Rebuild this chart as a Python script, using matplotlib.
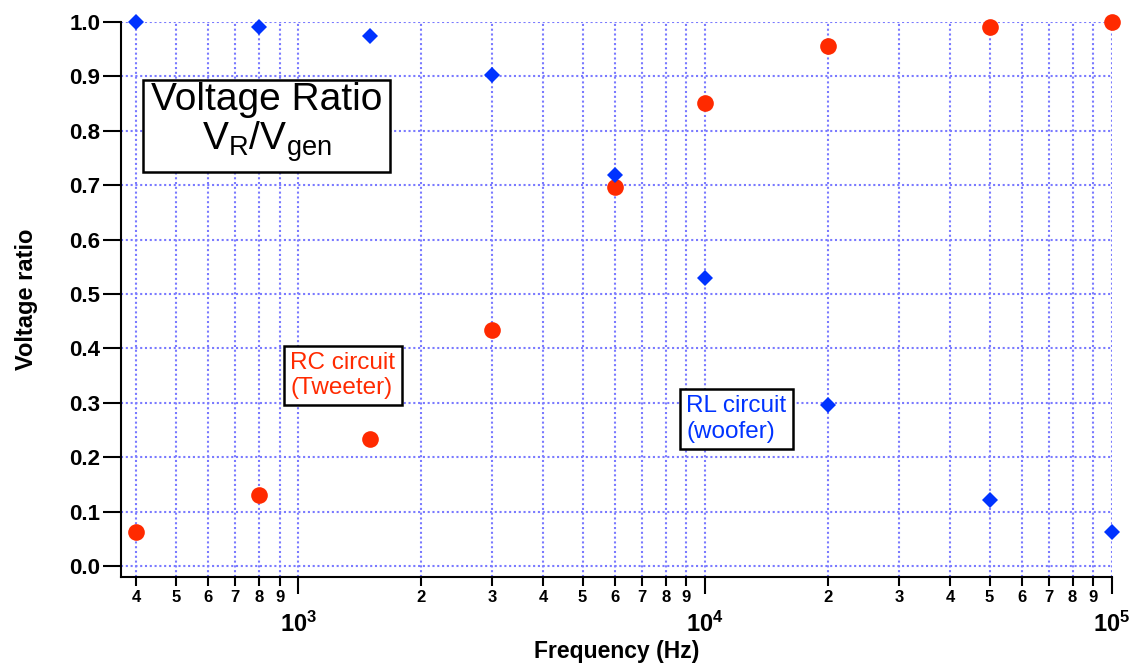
import matplotlib
matplotlib.use("Agg")
import matplotlib.pyplot as plt
from matplotlib.ticker import FixedLocator, FixedFormatter

plt.rcParams["font.family"] = ["Liberation Sans", "DejaVu Sans"]
plt.rcParams["mathtext.fontset"] = "custom"
plt.rcParams["mathtext.rm"] = "Liberation Sans"
plt.rcParams["mathtext.bf"] = "Liberation Sans:bold"

# measured points
freq = [400, 800, 1500, 3000, 6000, 10000, 20000, 50000, 100000]
rc_ratio = [0.062, 0.130, 0.233, 0.434, 0.696, 0.852, 0.955, 0.991, 1.000]
rl_ratio = [1.000, 0.991, 0.974, 0.903, 0.719, 0.529, 0.297, 0.121, 0.063]

major_x = [1e3, 1e4, 1e5]
major_x_labels = [r"$\mathbf{10^{3}}$", r"$\mathbf{10^{4}}$", r"$\mathbf{10^{5}}$"]
minor_x = [4e2, 5e2, 6e2, 7e2, 8e2, 9e2,
           2e3, 3e3, 4e3, 5e3, 6e3, 7e3, 8e3, 9e3,
           2e4, 3e4, 4e4, 5e4, 6e4, 7e4, 8e4, 9e4]
minor_x_labels = ["4", "5", "6", "7", "8", "9",
                  "2", "3", "4", "5", "6", "7", "8", "9",
                  "2", "3", "4", "5", "6", "7", "8", "9"]
y_ticks = [0.0, 0.1, 0.2, 0.3, 0.4, 0.5, 0.6, 0.7, 0.8, 0.9, 1.0]

RED = "#ff2a00"
BLUE = "#0033ff"
GRID = "#7a7aff"

fig = plt.figure(figsize=(11.33, 6.71), dpi=100)
ax = fig.add_axes([0.1068, 0.1401, 0.8747, 0.8271])
ax.set_xscale("log")

ax.plot(freq, rc_ratio, "o", color=RED, ms=12, mew=0, clip_on=False, zorder=5)
ax.plot(freq, rl_ratio, "D", color=BLUE, ms=8, mew=0, clip_on=False, zorder=5)

ax.set_xlim(367, 1e5)
ax.set_ylim(-0.02, 1.0)

ax.xaxis.set_major_locator(FixedLocator(major_x))
ax.xaxis.set_major_formatter(FixedFormatter(major_x_labels))
ax.xaxis.set_minor_locator(FixedLocator(minor_x))
ax.xaxis.set_minor_formatter(FixedFormatter(minor_x_labels))
ax.set_yticks(y_ticks)
ax.set_yticklabels([f"{v:.1f}" for v in y_ticks])

ax.tick_params(axis="x", which="major", length=12, width=1.5, pad=13,
               labelsize=17, direction="out")
ax.tick_params(axis="x", which="minor", length=6.5, width=1.5, pad=3,
               labelsize=12, direction="out")
ax.tick_params(axis="y", which="major", length=13, width=1.5, pad=2,
               labelsize=16, direction="out")
for lab in ax.get_yticklabels() + ax.xaxis.get_minorticklabels():
    lab.set_fontweight("bold")

for side in ("top", "right"):
    ax.spines[side].set_visible(False)
for side in ("left", "bottom"):
    ax.spines[side].set_linewidth(1.5)

grid_style = dict(color=GRID, linestyle=(0, (1, 1.3)), linewidth=1.5)
ax.grid(True, which="major", axis="both", **grid_style)
ax.grid(True, which="minor", axis="x", **grid_style)
ax.set_axisbelow(True)

ax.set_xlabel("Frequency (Hz)", fontsize=16.5, fontweight="bold", labelpad=2)
ax.set_ylabel("Voltage ratio", fontsize=17, fontweight="bold", labelpad=22)

ax.text(0.147, 0.818, "Voltage Ratio\n" + r"$\mathregular{V_R/V_{gen}}$",
        transform=ax.transAxes, ha="center", va="center", fontsize=28,
        linespacing=1.05, zorder=6,
        bbox=dict(boxstyle="square,pad=0.2", fc="white", ec="black", lw=1.8))
ax.text(0.224, 0.363, "RC circuit\n(Tweeter)", transform=ax.transAxes,
        ha="center", va="center", multialignment="left", fontsize=17.5,
        color=RED, linespacing=1.2, zorder=6,
        bbox=dict(boxstyle="square,pad=0.25", fc="white", ec="black", lw=1.8))
ax.text(0.621, 0.285, "RL circuit\n(woofer)", transform=ax.transAxes,
        ha="center", va="center", multialignment="left", fontsize=17.5,
        color=BLUE, linespacing=1.2, zorder=6,
        bbox=dict(boxstyle="square,pad=0.25", fc="white", ec="black", lw=1.8))

fig.savefig("out.png", dpi=100)
